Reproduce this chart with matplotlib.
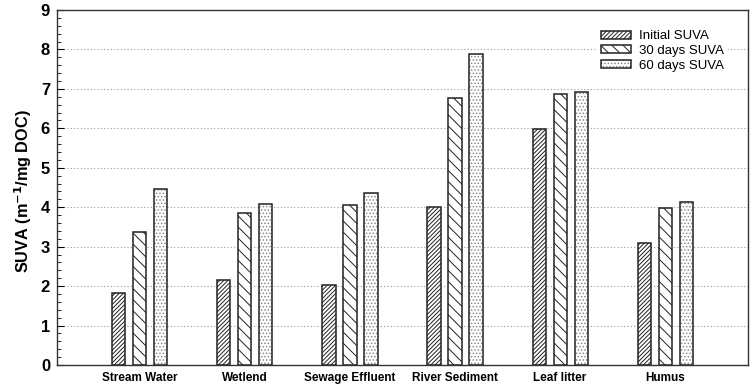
import matplotlib
matplotlib.use("Agg")
import matplotlib.pyplot as plt
import numpy as np

plt.rcParams['font.family'] = ['Liberation Sans', 'DejaVu Sans']
plt.rcParams['hatch.linewidth'] = 0.7

categories = ["Stream Water", "Wetlend", "Sewage Effluent", "River Sediment", "Leaf litter", "Humus"]
initial_suva = [1.83, 2.16, 2.03, 4.00, 5.98, 3.10]
days30_suva = [3.38, 3.85, 4.05, 6.78, 6.86, 3.98]
days60_suva = [4.46, 4.07, 4.36, 7.88, 6.91, 4.13]
series_labels = ["Initial SUVA", "30 days SUVA", "60 days SUVA"]

fig = plt.figure(figsize=(7.54, 3.88), dpi=100)
ax = fig.add_axes([57/754, 1-365/388, (748-57)/754, (365-10)/388])

x = np.arange(len(categories))
w = 0.124
off = 0.2
hatches = ['////////', '\\\\\\', '.....']
hatch_colors = ['#222222', '#222222', '#8a8a8a']
series = [initial_suva, days30_suva, days60_suva]
handles = []
for i, (vals, lab, h, hc) in enumerate(zip(series, series_labels, hatches, hatch_colors)):
    pos = x + (i - 1) * off
    b1 = ax.bar(pos, vals, w, facecolor='white', edgecolor=hc, hatch=h,
                linewidth=0, zorder=3)
    b2 = ax.bar(pos, vals, w, fill=False, edgecolor='#222222', linewidth=1.1, zorder=4)
    handles.append((b1.patches[0], b2.patches[0]))

ax.set_xlim(-0.79, 5.79)
ax.set_ylim(0, 9)
ax.set_yticks(range(0, 10))
ax.set_yticks(np.arange(0, 9.01, 0.2), minor=True)
ax.yaxis.grid(True, which='major', linestyle=(0, (1, 2)), color='#999999', linewidth=0.8, zorder=0)
ax.tick_params(axis='y', which='major', direction='in', length=5, labelsize=12, width=0.8, pad=5)
ax.tick_params(axis='y', which='minor', direction='in', length=3, width=0.6)
ax.set_xticks(x)
ax.set_xticklabels(categories, fontsize=8.5, fontweight='bold')
ax.tick_params(axis='x', length=0, pad=5)
for lbl in ax.get_yticklabels():
    lbl.set_fontweight('bold')
ax.set_ylabel("SUVA (m$^{\\mathbf{-1}}$/mg DOC)", fontsize=11.7, fontweight='bold')
ax.yaxis.set_label_coords(-0.034, 0.49)
for s in ax.spines.values():
    s.set_linewidth(1.0)
    s.set_color('#333333')

leg = ax.legend(handles, series_labels, loc='upper right', bbox_to_anchor=(0.981, 0.972),
                frameon=True, fontsize=9.5, handlelength=2.3, handleheight=0.55,
                labelspacing=0.2, handletextpad=0.6, borderpad=0.3)
leg.get_frame().set_edgecolor('none')
leg.get_frame().set_facecolor('white')
leg.get_frame().set_alpha(1)
leg.set_zorder(5)

fig.savefig("out.png", dpi=100)
